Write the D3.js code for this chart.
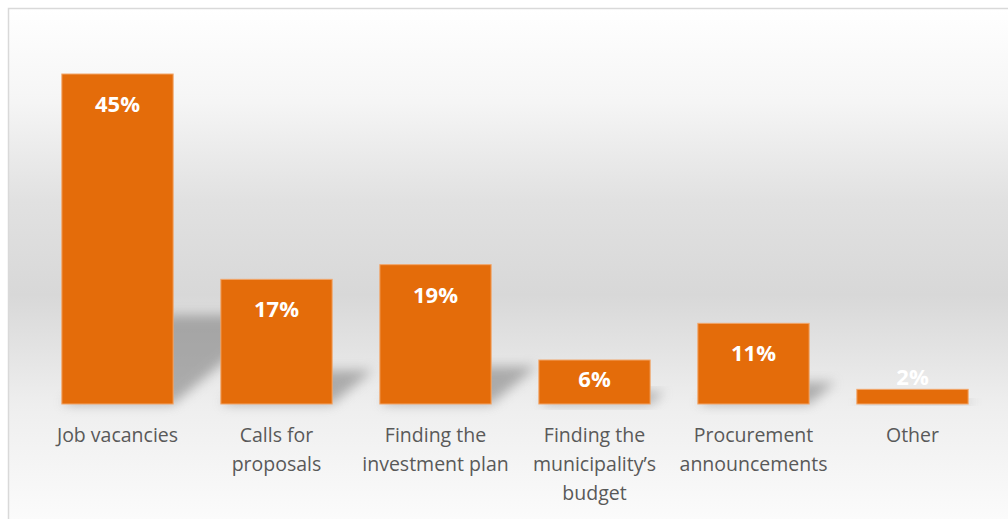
<!DOCTYPE html>
<html>
<head>
<meta charset="utf-8">
<script src="https://cdn.jsdelivr.net/npm/d3@7"></script>
<style>
  html, body { margin: 0; padding: 0; background: #fff; overflow: hidden; }
  svg { display: block; font-family: "Open Sans", sans-serif; }
</style>
</head>
<body>
<svg width="1008" height="519"></svg>
<script>
// data
var categories = ["Job vacancies", "Calls for proposals", "Finding the investment plan",
                  "Finding the municipality\u2019s budget", "Procurement announcements", "Other"];
var values = [0.45, 0.17, 0.19, 0.06, 0.11, 0.02];

var svg = d3.select("svg"),
    width = 1008,
    height = 519;

var defs = svg.append("defs");

// chart area background gradient
var grad = defs.append("linearGradient")
    .attr("id", "bg")
    .attr("x1", 0).attr("y1", 0).attr("x2", 0).attr("y2", 1);
[[0, "#ffffff"], [0.18, "#f5f5f5"], [0.37, "#e1e1e1"], [0.55, "#d8d8d8"],
 [0.76, "#eeeeee"], [1, "#fcfcfc"]].forEach(function (s) {
    grad.append("stop").attr("offset", s[0]).attr("stop-color", s[1]);
});

var blur = defs.append("filter")
    .attr("id", "shadowBlur")
    .attr("x", "-50%").attr("y", "-50%").attr("width", "200%").attr("height", "200%");
blur.append("feGaussianBlur").attr("stdDeviation", 6);

svg.append("rect")
    .attr("x", 8.5).attr("y", 8.5)
    .attr("width", 1010).attr("height", 520)
    .attr("fill", "url(#bg)")
    .attr("stroke", "#d9d9d9")
    .attr("stroke-width", 1.5);

// scales
var x = d3.scaleBand()
    .domain(categories)
    .range([38, 992])
    .paddingInner(0.3)
    .paddingOuter(0.15);

var y = d3.scaleLinear()
    .domain([0, 0.45])
    .range([404, 74]);

var pct = d3.format(".0%");

// perspective-ish shadows behind the bars
svg.append("g")
    .selectAll("path")
    .data(values)
    .enter().append("path")
    .attr("d", function (d, i) {
        var x0 = x(categories[i]), x1 = x0 + x.bandwidth();
        var y0 = y(0), h = y(0) - y(d);
        var hs = h * 0.27, sx = hs * 1.2;
        return "M" + x0 + "," + y0 + "L" + x1 + "," + y0 +
               "L" + (x1 + sx) + "," + (y0 - hs) + "L" + (x0 + sx) + "," + (y0 - hs) + "Z";
    })
    .attr("fill", "#777777")
    .attr("opacity", 0.55)
    .attr("filter", "url(#shadowBlur)");

// bars
svg.append("g")
    .selectAll("rect")
    .data(values)
    .enter().append("rect")
    .attr("x", function (d, i) { return x(categories[i]); })
    .attr("y", function (d) { return y(d); })
    .attr("width", x.bandwidth())
    .attr("height", function (d) { return y(0) - y(d); })
    .attr("fill", "#e46c0a")
    .attr("stroke", "#f2a66a")
    .attr("stroke-width", 1);

// value labels (inside end, centred when the bar is short, above when tiny)
svg.append("g")
    .selectAll("text")
    .data(values)
    .enter().append("text")
    .attr("x", function (d, i) { return x(categories[i]) + x.bandwidth() / 2; })
    .attr("y", function (d) {
        var h = y(0) - y(d);
        if (h > 60) return y(d) + 38;
        if (h > 30) return y(d) + h / 2 + 5;
        return y(d) - 4;
    })
    .attr("text-anchor", "middle")
    .attr("fill", "#ffffff")
    .attr("font-weight", "bold")
    .attr("font-size", "22px")
    .text(function (d) { return pct(d); });

// category labels, wrapped to the band
var catLabels = svg.append("g")
    .selectAll("text")
    .data(categories)
    .enter().append("text")
    .attr("x", function (d) { return x(d) + x.bandwidth() / 2; })
    .attr("y", 442)
    .attr("text-anchor", "middle")
    .attr("fill", "#595959")
    .attr("font-size", "19.5px");

catLabels.each(function (d) {
    var text = d3.select(this),
        words = d.split(" "),
        lines = [],
        line = [];
    var probe = text.append("tspan");
    words.forEach(function (w) {
        line.push(w);
        probe.text(line.join(" "));
        if (probe.node().getComputedTextLength() > 152 && line.length > 1) {
            line.pop();
            lines.push(line.join(" "));
            line = [w];
        }
    });
    lines.push(line.join(" "));
    probe.remove();
    var cx = text.attr("x");
    lines.forEach(function (l, k) {
        text.append("tspan")
            .attr("x", cx)
            .attr("dy", k === 0 ? 0 : 29)
            .text(l);
    });
});
</script>
</body>
</html>
